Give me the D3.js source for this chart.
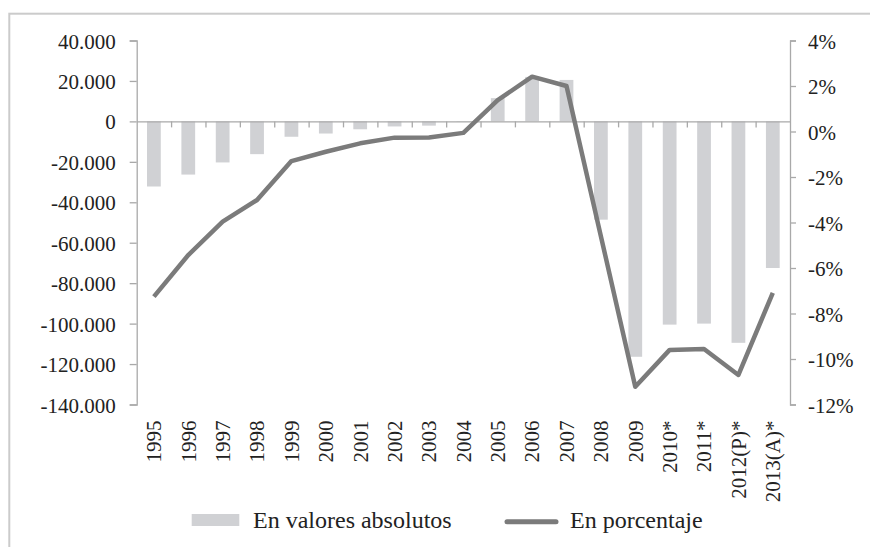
<!DOCTYPE html>
<html>
<head>
<meta charset="utf-8">
<script src="https://cdn.jsdelivr.net/npm/d3@7"></script>
<style>
  html, body { margin: 0; padding: 0; background: #fff; }
  svg, svg text { font-family: "Liberation Serif", "Times New Roman", serif; }
  svg { display: block; }
  .axis text { fill: #222; font-size: 21px; }
  .axis path, .axis line { stroke: #a9a9a9; stroke-width: 1.3px; }
</style>
</head>
<body>
<div id="chart"></div>
<script>
// categories
const years = ['1995', '1996', '1997', '1998', '1999', '2000', '2001', '2002', '2003', '2004',
    '2005', '2006', '2007', '2008', '2009', '2010*', '2011*', '2012(P)*', '2013(A)*'];
// en valores absolutos (left axis)
const absValues = [-32200, -26300, -20300, -16200, -7600, -6000, -3900, -2500, -2100, -200,
    11500, 22000, 20500, -48600, -116400, -100500, -100000, -109500, -72500];
// en porcentaje (right axis)
const pctValues = [-7.26, -5.43, -3.96, -3.01, -1.30, -0.89, -0.52, -0.27, -0.26, -0.06,
    1.38, 2.41, 2.0, -4.6, -11.22, -9.6, -9.56, -10.7, -7.09];
// tick labels
const leftTicks = [40000, 20000, 0, -20000, -40000, -60000, -80000, -100000, -120000, -140000];
const rightTicks = [4, 2, 0, -2, -4, -6, -8, -10, -12];

const width = 870;
const height = 547;
const plotLeft = 136.7, plotRight = 790, plotTop = 40.5, plotBottom = 404.5;

const svg = d3.select('#chart')
    .append('svg')
    .attr('width', width)
    .attr('height', height);

// outer frame (cut off at right and bottom like the source)
svg.append('rect')
    .attr('x', 9.3)
    .attr('y', 13.7)
    .attr('width', 900)
    .attr('height', 600)
    .attr('fill', 'none')
    .attr('stroke', '#cbcbcb')
    .attr('stroke-width', 2);

const x = d3.scaleBand()
    .domain(years)
    .range([plotLeft, plotRight])
    .paddingInner(0.6)
    .paddingOuter(0.3);

const yL = d3.scaleLinear().domain([-140000, 40000]).range([plotBottom, plotTop]);
const yR = d3.scaleLinear().domain([-12, 4]).range([plotBottom, plotTop]);

const es = d3.formatLocale({ decimal: ',', thousands: '.', grouping: [3], currency: ['', ''], minus: '-' });
const fmt = es.format(',');

// left axis
svg.append('g')
    .attr('class', 'axis')
    .attr('transform', `translate(${plotLeft},0)`)
    .call(d3.axisLeft(yL).tickValues(leftTicks).tickFormat(fmt).tickSize(7).tickPadding(14))
    .attr('font-family', null)
    .selectAll('text').attr('dy', '0.36em');

// right axis
svg.append('g')
    .attr('class', 'axis')
    .attr('transform', `translate(${plotRight},0)`)
    .call(d3.axisRight(yR).tickValues(rightTicks).tickFormat(d => d + '%').tickSize(6).tickPadding(12))
    .attr('font-family', null)
    .selectAll('text').attr('dy', '0.36em');

// bars
svg.selectAll('rect.bar')
    .data(absValues)
    .enter()
    .append('rect')
    .attr('class', 'bar')
    .attr('x', (d, i) => x(years[i]))
    .attr('y', d => yL(Math.max(0, d)))
    .attr('width', x.bandwidth())
    .attr('height', d => Math.abs(yL(d) - yL(0)))
    .attr('fill', '#d0d1d4');

// zero line with category boundary ticks
const xb = d3.scaleLinear().domain([0, years.length]).range([plotLeft, plotRight]);
svg.append('g')
    .attr('class', 'axis')
    .attr('transform', `translate(0,${yL(0)})`)
    .call(d3.axisBottom(xb).tickValues(d3.range(1, years.length)).tickFormat('').tickSize(6).tickSizeOuter(0));

// year labels
svg.append('g')
    .selectAll('text')
    .data(years)
    .enter()
    .append('text')
    .attr('transform', d => `translate(${x(d) + x.bandwidth() / 2},${plotBottom + 16}) rotate(-90)`)
    .attr('text-anchor', 'end')
    .attr('dy', '0.35em')
    .style('font-size', '21px')
    .style('fill', '#222')
    .text(d => d);

// percentage line
const line = d3.line()
    .x((d, i) => x(years[i]) + x.bandwidth() / 2)
    .y(d => yR(d));

svg.append('path')
    .datum(pctValues)
    .attr('d', line)
    .attr('fill', 'none')
    .attr('stroke', '#7b7b7b')
    .attr('stroke-width', 4.5)
    .attr('stroke-linejoin', 'round');

// legend
const legend = svg.append('g');
legend.append('rect')
    .attr('x', 191.7)
    .attr('y', 514)
    .attr('width', 47.6)
    .attr('height', 12)
    .attr('fill', '#d0d1d4');
legend.append('text')
    .attr('x', 253)
    .attr('y', 528)
    .style('font-size', '24px')
    .style('fill', '#222')
    .text('En valores absolutos');
legend.append('line')
    .attr('x1', 507)
    .attr('x2', 556)
    .attr('y1', 521.7)
    .attr('y2', 521.7)
    .attr('stroke', '#7b7b7b')
    .attr('stroke-width', 5)
    .attr('stroke-linecap', 'round');
legend.append('text')
    .attr('x', 570)
    .attr('y', 528)
    .style('font-size', '24px')
    .style('fill', '#222')
    .text('En porcentaje');
</script>
</body>
</html>
